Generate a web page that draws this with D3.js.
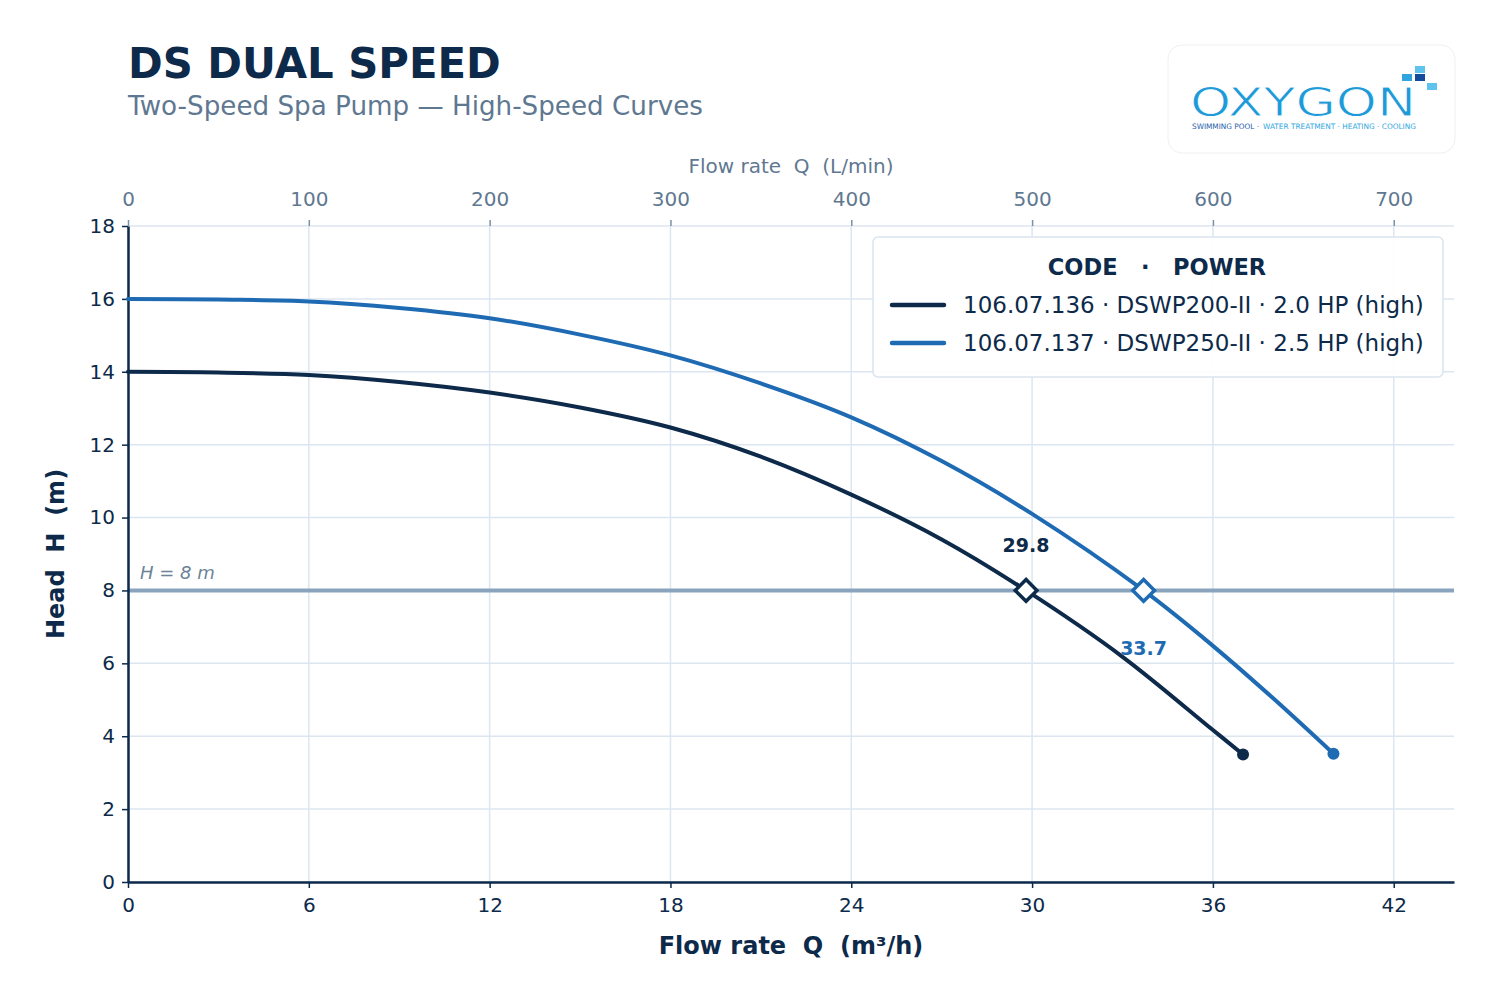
<!DOCTYPE html>
<html>
<head>
<meta charset="utf-8">
<script src="https://cdn.jsdelivr.net/npm/d3@7"></script>
<style>
  body { margin: 0; background: #fff; }
  svg text { font-family: "DejaVu Sans", sans-serif; white-space: pre; }
</style>
</head>
<body>
<div id="chart"></div>
<script>
// flow (m3/h) and head (m)
const q136 = [0, 3, 6, 9, 12, 15, 18, 21, 24, 27, 29.8, 33, 36, 37];
const h136 = [14.0, 13.98, 13.91, 13.72, 13.43, 13.02, 12.47, 11.67, 10.63, 9.4, 8.0, 6.18, 4.17, 3.5];
const q137 = [0, 3, 6, 9, 12, 15, 18, 21, 24, 27, 30, 33.7, 36, 38, 40];
const h137 = [16.0, 15.98, 15.93, 15.75, 15.47, 15.02, 14.45, 13.68, 12.75, 11.55, 10.1, 8.0, 6.48, 5.04, 3.52];

const seriesNames = ["106.07.136 · DSWP200-II · 2.0 HP (high)", "106.07.137 · DSWP250-II · 2.5 HP (high)"];
const dutyHead = 8;
const dutyFlows = [29.8, 33.7];
const xTicks = [0, 6, 12, 18, 24, 30, 36, 42];
const yTicks = [0, 2, 4, 6, 8, 10, 12, 14, 16, 18];
const lminTicks = [0, 100, 200, 300, 400, 500, 600, 700];

const navy = "#0d2a4a", blue = "#1f6bb3", slate = "#5f7891", grid = "#dce6f1";
const colors = [navy, blue];

const W = 1500, H = 1004;
const svg = d3.select("#chart").append("svg").attr("width", W).attr("height", H);

const x = d3.scaleLinear().domain([0, 44]).range([128, 1454]);
const y = d3.scaleLinear().domain([0, 18]).range([882, 226]);
const xL = d3.scaleLinear().domain([0, 44 * 1000 / 60]).range([128, 1454]);

// grid
svg.append("g").selectAll("line").data(xTicks).join("line")
  .attr("x1", d => x(d)).attr("x2", d => x(d)).attr("y1", y(18)).attr("y2", y(0))
  .attr("stroke", grid).attr("stroke-width", 1.5);
svg.append("g").selectAll("line").data(yTicks).join("line")
  .attr("x1", x(0)).attr("x2", x(44)).attr("y1", d => y(d)).attr("y2", d => y(d))
  .attr("stroke", grid).attr("stroke-width", 1.5);

// reference line
svg.append("line").attr("x1", x(0)).attr("x2", x(44)).attr("y1", y(dutyHead)).attr("y2", y(dutyHead))
  .attr("stroke", "#8aa4bd").attr("stroke-width", 4);
svg.append("text").attr("x", 140).attr("y", 579).attr("fill", "#6c8299")
  .style("font-size", "18px").style("font-style", "italic").text("H = 8 m");

// axes
const xAxis = d3.axisBottom(x).tickValues(xTicks).tickSize(6).tickSizeOuter(0).tickPadding(10);
const yAxis = d3.axisLeft(y).tickValues(yTicks).tickSize(6).tickSizeOuter(0).tickPadding(7);
const topAxis = d3.axisTop(xL).tickValues(lminTicks).tickSize(6).tickPadding(14);

const gx = svg.append("g").attr("transform", "translate(0," + y(0) + ")").call(xAxis);
const gy = svg.append("g").attr("transform", "translate(" + x(0) + ",0)").call(yAxis);
const gt = svg.append("g").attr("transform", "translate(0," + y(18) + ")").call(topAxis);

[gx, gy].forEach(g => {
  g.select(".domain").attr("stroke", navy).attr("stroke-width", 2.5);
  g.selectAll(".tick line").attr("stroke", navy).attr("stroke-width", 1.5);
  g.selectAll(".tick text").attr("fill", navy).style("font-size", "20px");
});
gt.select(".domain").remove();
gt.selectAll(".tick line").attr("stroke", "#7a90a6").attr("stroke-width", 1.5);
gt.selectAll(".tick text").attr("fill", slate).style("font-size", "20px");

// axis titles
svg.append("text").attr("x", 791).attr("y", 954).attr("text-anchor", "middle")
  .attr("fill", navy).style("font-size", "24px").style("font-weight", "bold")
  .text("Flow rate  Q  (m³/h)");
svg.append("text").attr("transform", "translate(64,554) rotate(-90)").attr("text-anchor", "middle")
  .attr("fill", navy).style("font-size", "24px").style("font-weight", "bold")
  .text("Head  H  (m)");
svg.append("text").attr("x", 791).attr("y", 173).attr("text-anchor", "middle")
  .attr("fill", slate).style("font-size", "20px")
  .text("Flow rate  Q  (L/min)");

// title
svg.append("text").attr("x", 128).attr("y", 78).attr("fill", navy)
  .style("font-size", "41.8px").style("font-weight", "bold").text("DS DUAL SPEED");
svg.append("text").attr("x", 128).attr("y", 115).attr("fill", slate)
  .style("font-size", "26.2px").text("Two-Speed Spa Pump — High-Speed Curves");

// curves
const series = [
  { q: q136, h: h136 },
  { q: q137, h: h137 }
];
const line = d3.line().x(d => x(d[0])).y(d => y(d[1])).curve(d3.curveCatmullRom.alpha(0.5));
series.forEach((s, i) => {
  const pts = s.q.map((v, j) => [v, s.h[j]]);
  svg.append("path").datum(pts).attr("d", line).attr("fill", "none")
    .attr("stroke", colors[i]).attr("stroke-width", 4).attr("stroke-linecap", "round");
  const last = pts[pts.length - 1];
  svg.append("circle").attr("cx", x(last[0])).attr("cy", y(last[1])).attr("r", 6).attr("fill", colors[i]);
});

// duty points
const diamond = d3.symbol().type(d3.symbolDiamond2).size(300);
dutyFlows.forEach((f, i) => {
  svg.append("path").attr("d", diamond)
    .attr("transform", "translate(" + x(f) + "," + y(dutyHead) + ")")
    .attr("fill", "#fff").attr("stroke", colors[i]).attr("stroke-width", 3.5);
});
svg.append("text").attr("x", x(dutyFlows[0])).attr("y", 552).attr("text-anchor", "middle")
  .attr("fill", navy).style("font-size", "19px").style("font-weight", "bold").text(dutyFlows[0].toFixed(1));
svg.append("text").attr("x", x(dutyFlows[1])).attr("y", 655).attr("text-anchor", "middle")
  .attr("fill", blue).style("font-size", "19px").style("font-weight", "bold").text(dutyFlows[1].toFixed(1));

// legend
const lg = svg.append("g");
lg.append("rect").attr("x", 873).attr("y", 237).attr("width", 570).attr("height", 140).attr("rx", 5)
  .attr("fill", "#fff").attr("fill-opacity", 0.92).attr("stroke", "#dbe4ee").attr("stroke-width", 1.5);
lg.append("text").attr("x", 1157).attr("y", 275).attr("text-anchor", "middle").attr("fill", navy)
  .style("font-size", "22.5px").style("font-weight", "bold")
  .text("CODE   ·   POWER");
seriesNames.forEach((n, i) => {
  const yy = 305 + i * 38;
  lg.append("line").attr("x1", 892).attr("x2", 944).attr("y1", yy).attr("y2", yy)
    .attr("stroke", colors[i]).attr("stroke-width", 4.5).attr("stroke-linecap", "round");
  lg.append("text").attr("x", 963).attr("y", yy + 8).attr("fill", navy)
    .style("font-size", "23px").text(n);
});

// logo
const logo = svg.append("g");
logo.append("rect").attr("x", 1168).attr("y", 45).attr("width", 287).attr("height", 108).attr("rx", 14)
  .attr("fill", "#fff").attr("stroke", "#eef0f2").attr("stroke-width", 1);
logo.append("text").attr("x", 1190).attr("y", 116).attr("fill", "#1f9ad8").attr("stroke", "#fff")
  .attr("stroke-width", 0.9).style("font-size", "39px")
  .attr("textLength", 226).attr("lengthAdjust", "spacingAndGlyphs")
  .text("OXYGON");
const squares = [[1415, 66, "#5ec4ef"], [1402, 74, "#2fa6e0"], [1415, 74, "#134c9c"], [1427, 83, "#5ec4ef"]];
logo.selectAll("rect.sq").data(squares).join("rect").attr("class", "sq")
  .attr("x", d => d[0]).attr("y", d => d[1]).attr("width", 10).attr("height", 7).attr("fill", d => d[2]);
logo.append("text").attr("x", 1192).attr("y", 128.5).style("font-size", "7.5px").attr("fill", "#1f5da8")
  .attr("textLength", 67).attr("lengthAdjust", "spacingAndGlyphs").text("SWIMMING POOL ·");
logo.append("text").attr("x", 1263).attr("y", 128.5).style("font-size", "7.5px").attr("fill", "#2fa6e0")
  .attr("textLength", 153).attr("lengthAdjust", "spacingAndGlyphs").text("WATER TREATMENT · HEATING · COOLING");
</script>
</body>
</html>
